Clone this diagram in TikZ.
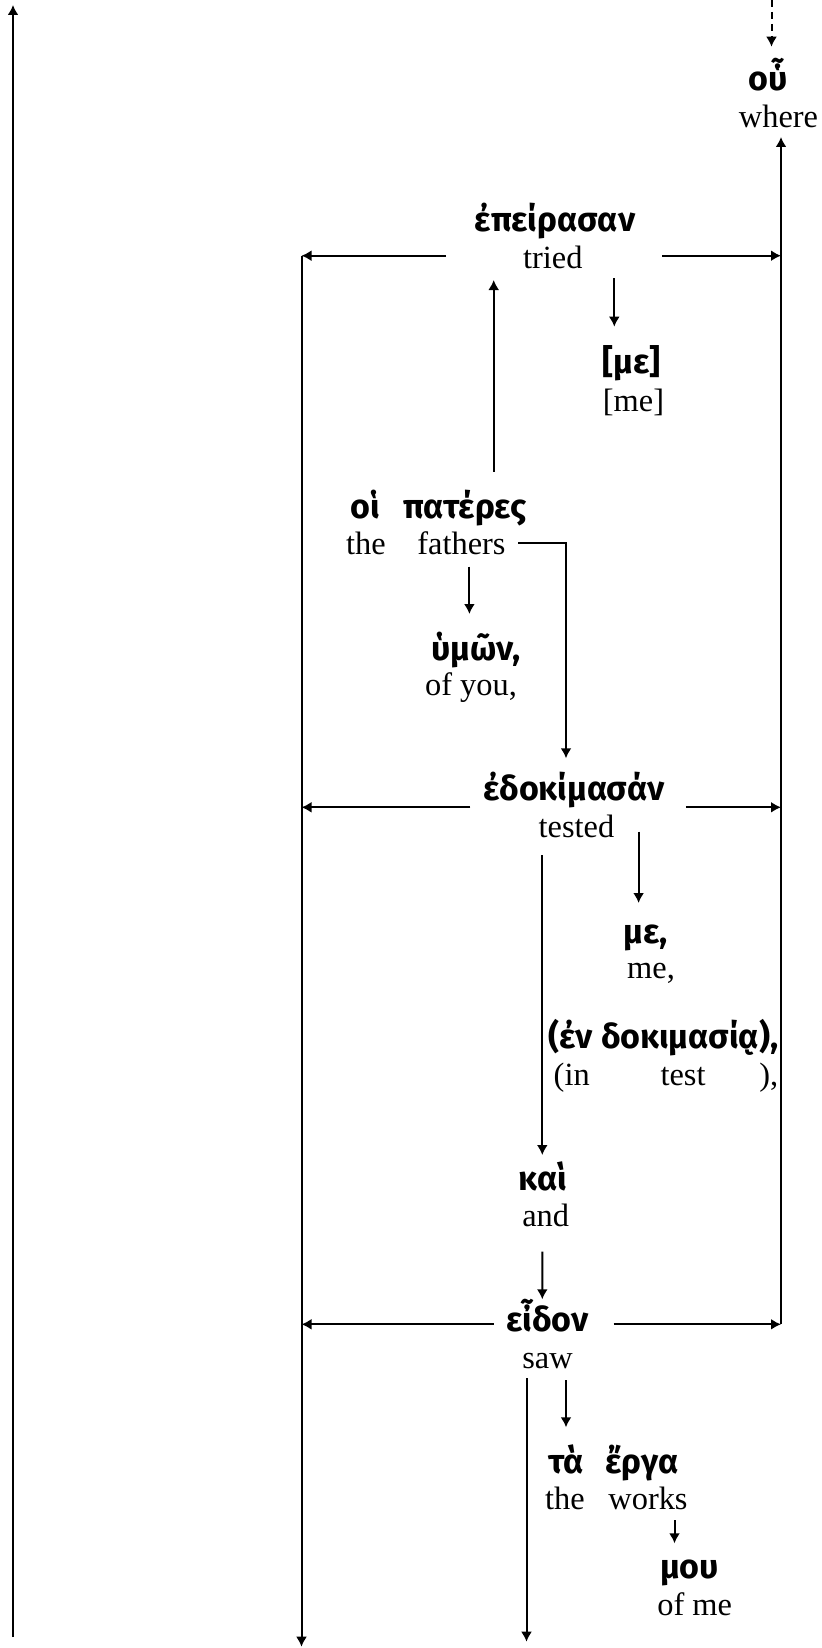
\documentclass[tikz,border=0pt]{standalone}
\usepackage{fontspec}
\setmainfont{Liberation Serif}
\newfontfamily\grk{Fira Sans}
\usetikzlibrary{arrows.meta,calc}

\begin{document}
\begin{tikzpicture}[>={Latex[length=5pt,width=5.5pt]}, x=.5pt, y=-.5pt, line width=1pt,
        gr/.style={anchor=base, inner sep=0pt, font=\grk\bfseries\fontsize{17}{20}\selectfont},
        en/.style={anchor=base, inner sep=0pt, font=\fontsize{16.2}{19}\selectfont}]
    \useasboundingbox (0,0) rectangle (822,1648);
    % words
    \node[gr] (ou) at (768,90.7) {οὗ};
    \node[en] (where) at (778.5,127.3) {where};
    \node[gr] (epeirasan) at (555,231.7) {ἐπείρασαν};
    \node[en] (tried) at (552.8,268.3) {tried};
    \node[gr] (me1) at (631.8,373) {[με]};
    \node[en] (me1e) at (633.5,411.7) {[me]};
    \node[gr] (hoi) at (365,518.3) {οἱ};
    \node[gr] (pateres) at (465,518.3) {πατέρες};
    \node[en] (the1) at (366,554) {the};
    \node[en] (fathers) at (461.5,554) {fathers};
    \node[gr] (hymon) at (476.3,660.7) {ὑμῶν,};
    \node[en] (ofyou) at (471,695) {of you,};
    \node[gr] (edokimasan) at (574.5,800) {ἐδοκίμασάν};
    \node[en] (tested) at (576.5,837.3) {tested};
    \node[gr] (me2) at (646,943.3) {με,};
    \node[en] (me2e) at (651,978.3) {me,};
    \node[gr, anchor=base east] (endok) at (779.3,1048.3) {(ἐν δοκιμασίᾳ),};
    \node[en] (in) at (571.7,1085) {(in};
    \node[en] (test) at (683,1085) {test};
    \node[en, anchor=base east] (paren) at (779.3,1085) {),};
    \node[gr] (kai) at (543,1190) {καὶ};
    \node[en] (and) at (545.7,1226.7) {and};
    \node[gr] (eidon) at (547.5,1331.7) {εἶδον};
    \node[en] (saw) at (547.5,1368.3) {saw};
    \node[gr] (ta) at (566,1473.3) {τὰ};
    \node[gr] (erga) at (642,1473.3) {ἔργα};
    \node[en] (the2) at (565,1509.3) {the};
    \node[en] (works) at (648,1509.3) {works};
    \node[gr] (mou) at (689.5,1578.3) {μου};
    \node[en] (ofme) at (694.7,1615) {of me};
    % line ends
    \coordinate (Otop) at (13,5);
    \coordinate (Obot) at (13,1637);
    \coordinate (Ltop) at (301.5,255.7);
    \coordinate (L2) at (301.5,807.3);
    \coordinate (L3) at (301.5,1324.3);
    \coordinate (Lbot) at (301.5,1646.7);
    \coordinate (Rtop) at ($(where.base)+(2.5,9.7)$);
    \coordinate (Dtop) at (771.5,0);
    \coordinate (Sbot) at (526.5,1641.7);
    % long lines
    \draw[->] (Obot) -- (Otop);
    \draw[->, dash pattern=on 3.5pt off 2.5pt] (Dtop) -- ($(ou.base)+(3.5,-44)$);
    \draw[->] (Ltop) -- (Lbot);
    \draw[->] (Rtop |- L3) -- (Rtop);
    % verbs
    \draw[->] ($(epeirasan.base |- Ltop)+(-109,0)$) -- (Ltop);
    \draw[->] ($(epeirasan.base |- Ltop)+(107.2,0)$) -- (Rtop |- Ltop);
    \draw[->] ($(edokimasan.base |- L2)+(-104.1,0)$) -- (L2);
    \draw[->] ($(edokimasan.base |- L2)+(111.3,0)$) -- (Rtop |- L2);
    \draw[->] ($(eidon.base |- L3)+(-53.8,0)$) -- (L3);
    \draw[->] ($(eidon.base |- L3)+(66.1,0)$) -- (Rtop |- L3);
    % modifiers
    \draw[->] ($(tried.base)+(61.5,9.7)$) -- ($(me1.base)+(-17.5,-46.3)$);
    \draw[->] ($(pateres.base)+(28.7,-46.6)$) -- ($(tried.base)+(-59.1,11.7)$);
    \draw[->] ($(fathers.base)+(56.5,-10.7)$) -| ($(edokimasan.base)+(-8.5,-41.7)$);
    \draw[->] ($(fathers.base)+(7.9,12.7)$) -- ($(hymon.base)+(-6.9,-46.7)$);
    \draw[->] ($(tested.base)+(62.1,-5.6)$) -- ($(me2.base)+(-7.4,-40.3)$);
    \draw[->] ($(tested.base)+(-34.2,17.7)$) -- ($(kai.base)+(-0.7,-35)$);
    \draw[->] ($(and.base)+(-3.4,25)$) -- ($(eidon.base)+(-5.2,-32.4)$);
    \draw[->] ($(saw.base)+(18.5,11.7)$) -- ($(ta.base)+(0,-46)$);
    \draw[->] ($(saw.base)+(-21,10)$) -- (Sbot);
    \draw[->] ($(works.base)+(26.5,10.7)$) -- ($(mou.base)+(-15,-35)$);
\end{tikzpicture}
\end{document}
